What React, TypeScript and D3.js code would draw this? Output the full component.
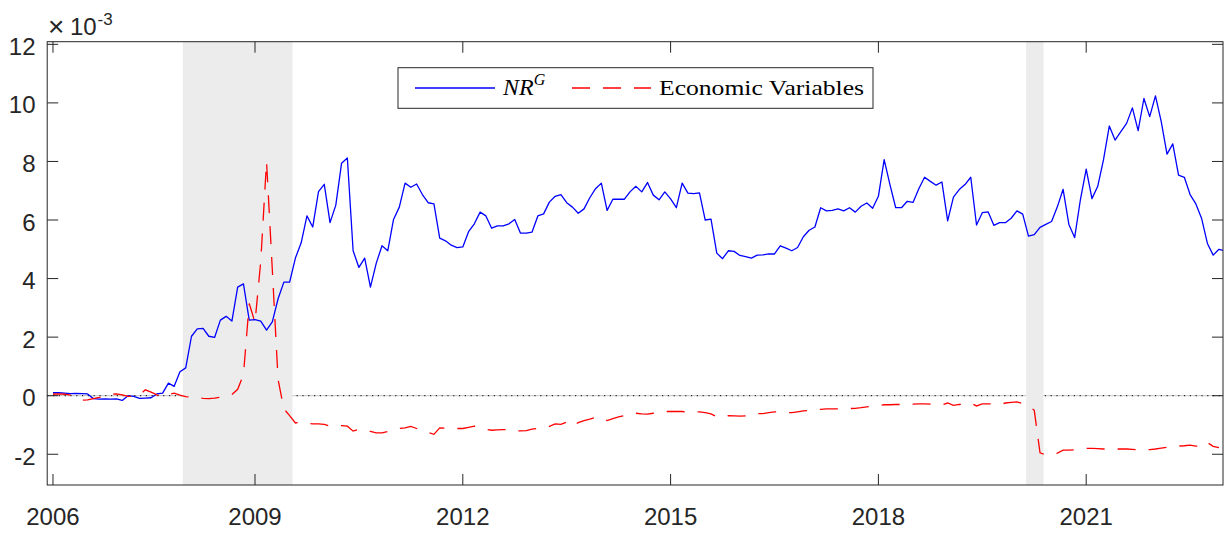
import React from 'react'
import * as d3 from 'd3'

// monthly series, first value = month 1 (Feb 2006), units of 1e-3
const nrG = [
  0.10, 0.10, 0.09, 0.07, 0.08, 0.07, 0.06, -0.10, -0.12, -0.11, -0.12, -0.11, -0.16, 0.00, -0.02, -0.09,
  -0.08, -0.07, 0.06, 0.09, 0.43, 0.32, 0.82, 0.95, 2.03, 2.28, 2.30, 2.03, 1.99, 2.58, 2.71, 2.55,
  3.71, 3.82, 2.58, 2.60, 2.55, 2.24, 2.52, 3.31, 3.88, 3.88, 4.70, 5.22, 6.14, 5.76, 6.97, 7.22,
  5.91, 6.51, 7.94, 8.12, 4.95, 4.38, 4.70, 3.71, 4.52, 5.12, 4.95, 6.02, 6.44, 7.26, 7.12, 7.23,
  6.87, 6.59, 6.55, 5.38, 5.29, 5.14, 5.06, 5.08, 5.60, 5.87, 6.27, 6.14, 5.72, 5.80, 5.80, 5.87,
  6.02, 5.55, 5.55, 5.59, 6.14, 6.21, 6.61, 6.81, 6.87, 6.59, 6.44, 6.23, 6.38, 6.76, 7.07, 7.26,
  6.33, 6.71, 6.71, 6.71, 6.97, 7.15, 6.96, 7.28, 6.85, 6.69, 6.96, 6.72, 6.42, 7.26, 6.92, 6.90,
  6.93, 6.00, 6.03, 4.87, 4.68, 4.95, 4.93, 4.79, 4.75, 4.70, 4.80, 4.81, 4.84, 4.84, 5.12, 5.04,
  4.95, 5.06, 5.43, 5.65, 5.76, 6.42, 6.31, 6.33, 6.38, 6.31, 6.42, 6.27, 6.47, 6.58, 6.40, 6.81,
  8.06, 7.21, 6.42, 6.42, 6.64, 6.60, 7.07, 7.46, 7.32, 7.19, 7.30, 5.97, 6.78, 7.04, 7.21, 7.46,
  5.83, 6.25, 6.28, 5.82, 5.91, 5.91, 6.06, 6.31, 6.20, 5.45, 5.50, 5.75, 5.85, 5.95, 6.45, 7.05,
  5.85, 5.40, 6.70, 7.74, 6.73, 7.15, 8.06, 9.21, 8.73, 9.02, 9.30, 9.83, 9.05, 10.15, 9.53, 10.24,
  9.36, 8.25, 8.60, 7.53, 7.46, 6.87, 6.55, 6.05, 5.20, 4.80, 5.00, 4.95,
]

const econVars = [
  0.05, 0.06, 0.05, 0.02, -0.06, -0.15, -0.14, -0.10, -0.06, -0.01, 0.05, 0.06, 0.03, -0.02, -0.03, 0.02,
  0.20, 0.12, 0.03, -0.02, 0.04, 0.09, 0.02, -0.03, -0.05, -0.07, -0.09, -0.10, -0.08, -0.05, -0.02, 0.04,
  0.22, 0.72, 3.15, 2.50, 4.60, 8.00, 4.30, 0.55, -0.45, -0.68, -0.93, -0.90, -0.95, -0.96, -0.96, -0.98,
  -1.04, -1.00, -1.02, -1.04, -1.21, -1.15, -1.18, -1.22, -1.27, -1.27, -1.22, -1.15, -1.12, -1.10, -1.05, -1.12,
  -1.21, -1.25, -1.32, -1.10, -1.11, -1.12, -1.12, -1.12, -1.08, -1.04, -1.10, -1.15, -1.18, -1.17, -1.16, -1.15,
  -1.21, -1.20, -1.19, -1.14, -1.12, -1.10, -1.05, -0.96, -0.98, -0.90, -1.04, -0.92, -0.85, -0.80, -0.74, -0.74,
  -0.85, -0.78, -0.72, -0.68, -0.64, -0.60, -0.62, -0.63, -0.60, -0.57, -0.54, -0.54, -0.54, -0.54, -0.57, -0.56,
  -0.55, -0.58, -0.62, -0.72, -0.72, -0.68, -0.69, -0.70, -0.69, -0.68, -0.61, -0.61, -0.58, -0.55, -0.56, -0.57,
  -0.58, -0.55, -0.52, -0.50, -0.48, -0.47, -0.45, -0.45, -0.45, -0.44, -0.44, -0.43, -0.41, -0.38, -0.36, -0.34,
  -0.31, -0.31, -0.30, -0.30, -0.29, -0.29, -0.28, -0.28, -0.29, -0.30, -0.31, -0.25, -0.33, -0.30, -0.28, -0.25,
  -0.35, -0.28, -0.28, -0.28, -0.30, -0.25, -0.23, -0.21, -0.27, -0.33, -0.50, -1.95, -2.02, -2.00, -1.96, -1.86,
  -1.86, -1.85, -1.83, -1.80, -1.80, -1.81, -1.82, -1.82, -1.82, -1.82, -1.82, -1.83, -1.85, -1.85, -1.84, -1.82,
  -1.79, -1.76, -1.74, -1.72, -1.71, -1.69, -1.72, -1.74, -1.60, -1.73, -1.77,
]

// shaded recession periods, in months since Jan 2006
const recessions = [
  [23.5, 42.5],
  [169.6, 172.6],
]

const xTickMonths = [1, 36, 72, 108, 144, 180]
const xTickLabels = ['2006', '2009', '2012', '2015', '2018', '2021']
const yTicks = [-2, 0, 2, 4, 6, 8, 10, 12]

const axisColor = '#262626'
const sansFont = "'Liberation Sans', Arial, sans-serif"
const serifFont = "'Liberation Serif', 'Times New Roman', serif"

export default function App() {
  const width = 1225
  const height = 534
  const plotLeft = 47.2
  const plotRight = 1223
  const plotTop = 41.7
  const plotBottom = 485
  const tickLen = 11

  const x = d3.scaleLinear().domain([0, 203.7]).range([plotLeft, plotRight])
  const y = d3.scaleLinear().domain([-3.05, 12.09]).range([plotBottom, plotTop])

  const line = d3.line<number>()
    .x((_, i) => x(i + 1))
    .y(d => y(d))

  return (
    <svg width={width} height={height}
      style={{ position: 'absolute', left: 0, top: 0, background: '#fff', display: 'block' }}>
      <defs>
        <clipPath id="plot-area">
          <rect x={plotLeft} y={plotTop} width={plotRight - plotLeft} height={plotBottom - plotTop} />
        </clipPath>
      </defs>

      {/* zero reference line */}
      <line x1={plotLeft} x2={plotRight} y1={y(0)} y2={y(0)} stroke="#cfcfcf" strokeWidth={1.2} />
      <line x1={plotLeft} x2={plotRight} y1={y(0)} y2={y(0)} stroke="#000" strokeWidth={1}
        strokeDasharray="1.2,4.6" />

      {/* recession shading */}
      {recessions.map(([a, b], i) => (
        <rect key={i} x={x(a)} y={plotTop} width={x(b) - x(a)} height={plotBottom - plotTop} fill="#ececec" />
      ))}

      <g clipPath="url(#plot-area)" fill="none">
        <path d={line(nrG) || ''} stroke="#0000ff" strokeWidth={1.3} strokeLinejoin="round" />
        <path d={line(econVars) || ''} stroke="#ff0000" strokeWidth={1.3} strokeDasharray="18,13" />
      </g>

      {/* box */}
      <rect x={plotLeft} y={plotTop} width={plotRight - plotLeft} height={plotBottom - plotTop}
        fill="none" stroke={axisColor} strokeWidth={1} />

      {/* y ticks */}
      {yTicks.map(t => (
        <g key={t}>
          <line x1={plotLeft} x2={plotLeft + tickLen} y1={y(t)} y2={y(t)} stroke={axisColor} />
          <line x1={plotRight - tickLen} x2={plotRight} y1={y(t)} y2={y(t)} stroke={axisColor} />
          <text x={35.5} y={y(t) + 10.5} textAnchor="end" fontFamily={sansFont} fontSize={24} fill={axisColor}>
            {t}
          </text>
        </g>
      ))}

      {/* x ticks */}
      {xTickMonths.map((m, i) => (
        <g key={m}>
          <line x1={x(m)} x2={x(m)} y1={plotBottom} y2={plotBottom - tickLen} stroke={axisColor} />
          <line x1={x(m)} x2={x(m)} y1={plotTop} y2={plotTop + tickLen} stroke={axisColor} />
          <text x={x(m)} y={525} textAnchor="middle" fontFamily={sansFont} fontSize={24} fill={axisColor}>
            {xTickLabels[i]}
          </text>
        </g>
      ))}

      {/* exponent label */}
      <text x={48} y={36} fontFamily={sansFont} fontSize={28} fontWeight={300} fill={axisColor}>×</text>
      <text x={70} y={35} fontFamily={sansFont} fontSize={24} fill={axisColor}>10</text>
      <text x={97.5} y={25} fontFamily={sansFont} fontSize={17} fill={axisColor}>-3</text>

      {/* legend */}
      <g>
        <rect x={398} y={67.7} width={475} height={40.6} fill="#fff" stroke={axisColor} strokeWidth={1} />
        <line x1={415} x2={495} y1={88} y2={88} stroke="#0000ff" strokeWidth={1.3} />
        <text x={503} y={95} fontFamily={serifFont} fontSize={24} fontStyle="italic" fill="#000">
          NR
          <tspan fontSize={16} dy={-10}>G</tspan>
        </text>
        <line x1={572} x2={651} y1={88} y2={88} stroke="#ff0000" strokeWidth={1.3} strokeDasharray="18,13" />
        <text x={659} y={94.5} fontFamily={serifFont} fontSize={22} fill="#000"
          textLength={205} lengthAdjust="spacingAndGlyphs">Economic Variables</text>
      </g>
    </svg>
  )
}
